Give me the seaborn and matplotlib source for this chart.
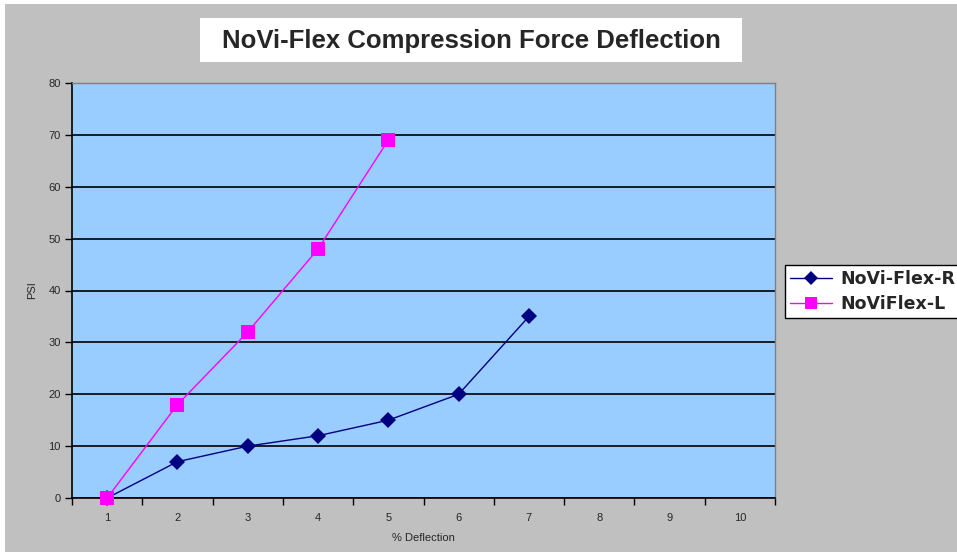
import matplotlib
matplotlib.use("Agg")
import matplotlib.pyplot as plt
import matplotlib.patches as mpatches
from matplotlib.ticker import FixedLocator, NullFormatter
import seaborn as sns
import pandas as pd

categories = [1, 2, 3, 4, 5, 6, 7, 8, 9, 10]
r_x = [1, 2, 3, 4, 5, 6, 7]
r_vals = [0, 7, 10, 12, 15, 20, 35]
l_x = [1, 2, 3, 4, 5]
l_vals = [0, 18, 32, 48, 69]
y_ticks = [0, 10, 20, 30, 40, 50, 60, 70, 80]

df = pd.concat([
    pd.DataFrame({"x": r_x, "y": r_vals, "series": "NoVi-Flex-R"}),
    pd.DataFrame({"x": l_x, "y": l_vals, "series": "NoViFlex-L"}),
])

sns.set_style("white")
plt.rcParams['font.family'] = ['Liberation Sans', 'DejaVu Sans']

W, H = 957, 552
fig = plt.figure(figsize=(W / 100, H / 100), dpi=100, facecolor="white")
fig.patches.append(mpatches.Rectangle((5 / W, 0), 1, 1 - 4 / H, transform=fig.transFigure,
                                      facecolor="#C0C0C0", edgecolor="none", zorder=-10))

ax = fig.add_axes([72 / W, 1 - 498 / H, (775 - 72) / W, (498 - 83) / H])
ax.set_facecolor("#99CCFF")

palette = {"NoVi-Flex-R": "#000080", "NoViFlex-L": "#FF00FF"}
markers = {"NoVi-Flex-R": "D", "NoViFlex-L": "s"}
sns.lineplot(data=df, x="x", y="y", hue="series", style="series", palette=palette,
             markers=markers, dashes=False, ax=ax, linewidth=1.0, markersize=8,
             markeredgewidth=0, legend=False, zorder=5)
for line in ax.lines:
    line.set_clip_on(False)
    c = matplotlib.colors.to_hex(line.get_color()).lower()
    if c == "#ff00ff":
        line.set_markersize(10)
        line.set_zorder(6)

ax.set_xlim(0.5, 10.5)
ax.set_ylim(0, 80)
ax.set_yticks(y_ticks)
ax.yaxis.grid(True, color="black", linewidth=1.2)
ax.set_axisbelow(True)

ax.xaxis.set_major_locator(FixedLocator([c - 0.5 for c in categories] + [10.5]))
ax.xaxis.set_major_formatter(NullFormatter())
ax.xaxis.set_minor_locator(FixedLocator(categories))
ax.set_xticklabels([str(c) for c in categories], minor=True)
ax.tick_params(axis="x", which="major", direction="out", length=5, width=1, color="black", bottom=True)
ax.tick_params(axis="x", which="minor", length=0, labelsize=8, pad=11, bottom=True)
ax.tick_params(axis="y", direction="out", length=5, width=1, color="black", labelsize=8, pad=3, left=True)

for s in ["left", "bottom"]:
    ax.spines[s].set_color("black")
    ax.spines[s].set_linewidth(1.2)
for s in ["top", "right"]:
    ax.spines[s].set_color("#808080")
    ax.spines[s].set_linewidth(1.0)

ax.set_xlabel("% Deflection", fontsize=8, labelpad=7)
ax.set_ylabel("PSI", fontsize=8, labelpad=8)

fig.patches.append(mpatches.Rectangle((200 / W, 1 - 62 / H), (742 - 200) / W, 44 / H,
                                      transform=fig.transFigure, facecolor="white",
                                      edgecolor="none", zorder=1))
fig.text((200 + 742) / 2 / W, 1 - 41 / H, "NoVi-Flex Compression Force Deflection",
         ha="center", va="center", fontsize=18.5, fontweight="bold", zorder=2)

handles = [plt.Line2D([], [], color="#000080", marker="D", markersize=7, linewidth=1.0, markeredgewidth=0),
           plt.Line2D([], [], color="#FF00FF", marker="s", markersize=9, linewidth=1.0, markeredgewidth=0)]
leg = fig.legend(handles, ["NoVi-Flex-R", "NoViFlex-L"], loc="upper left",
                 bbox_to_anchor=(785 / W, 1 - 265 / H), bbox_transform=fig.transFigure,
                 frameon=True, fancybox=False, framealpha=1.0, borderaxespad=0,
                 prop={"size": 12.5, "weight": "bold", "family": "DejaVu Sans"},
                 handlelength=2.4, borderpad=0.3, labelspacing=0.4, handletextpad=0.5)
leg.get_frame().set_edgecolor("black")
leg.get_frame().set_linewidth(1.0)
leg.get_frame().set_facecolor("white")

fig.savefig("out.png", dpi=100, facecolor=fig.get_facecolor())
